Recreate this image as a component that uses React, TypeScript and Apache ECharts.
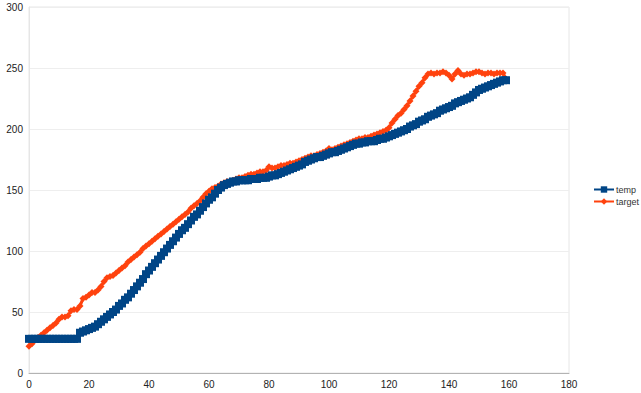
import React, { useEffect, useRef } from "react";
import * as echarts from "echarts";

const seriesNames = ["temp", "target"];

const temp = [
  28, 28, 28, 28, 28, 28, 28, 28, 28, 28,
  28, 28, 28, 28, 28, 28, 28, 33, 34, 35,
  36, 37, 38, 40, 42, 44, 46, 48, 50, 52,
  55, 57, 60, 62, 65, 68, 71, 74, 77, 81,
  84, 87, 90, 93, 96, 99, 102, 105, 108, 111,
  114, 117, 119, 122, 125, 128, 130, 133, 136, 139,
  142, 144, 147, 150, 152, 154, 155, 156, 157, 157,
  158, 158, 158, 158, 159, 159, 159, 160, 160, 160,
  161, 162, 162, 163, 164, 165, 166, 167, 168, 169,
  170, 171, 173, 174, 175, 176, 177, 177, 178, 179,
  180, 181, 181, 182, 183, 184, 185, 186, 187, 188,
  188, 189, 189, 190, 190, 190, 191, 192, 192, 193,
  194, 195, 196, 197, 198, 199, 200, 202, 203, 204,
  206, 207, 208, 210, 211, 212, 213, 215, 216, 217,
  218, 219, 221, 222, 223, 224, 225, 226, 228, 230,
  232, 233, 234, 235, 236, 237, 238, 239, 240, 240,
];

const target = [
  22, 24, 27, 29, 31, 33, 35, 37, 39, 41,
  44, 46, 46, 47, 51, 52, 52, 55, 61, 62,
  64, 66, 66, 68, 71, 75, 78, 79, 80, 82,
  84, 86, 88, 91, 93, 95, 97, 99, 102, 104,
  106, 108, 110, 112, 114, 116, 118, 120, 122, 124,
  126, 128, 130, 132, 135, 137, 139, 141, 144, 147,
  149, 151, 152, 153, 155, 156, 157, 157, 158, 159,
  160, 160, 161, 162, 163, 163, 164, 165, 165, 166,
  169, 168, 168, 169, 170, 170, 171, 172, 172, 173,
  174, 175, 176, 177, 178, 178, 179, 180, 181, 182,
  184, 183, 184, 185, 186, 187, 188, 189, 190, 191,
  192, 192, 193, 193, 194, 195, 196, 197, 198, 199,
  201, 205, 208, 211, 213, 216, 219, 223, 227, 231,
  235, 238, 242, 245, 246, 245, 246, 246, 247, 246,
  244, 241, 245, 248, 245, 244, 245, 245, 246, 247,
  247, 246, 245, 246, 246, 245, 246, 246, 246, 241,
];

const FONT = "Liberation Sans, Arial, sans-serif";

export default function App() {
  const ref = useRef<HTMLDivElement>(null);
  useEffect(() => {
    if (!ref.current) return;
    const chart = echarts.init(ref.current, undefined, { renderer: "svg" });
    chart.setOption({
      animation: false,
      backgroundColor: "#ffffff",
      grid: {
        left: 29,
        right: 72,
        top: 7,
        bottom: 20,
        show: true,
        borderColor: "#e6e6e6",
        borderWidth: 1,
      },
      legend: {
        orient: "vertical",
        left: 593,
        top: 185,
        itemWidth: 20,
        itemHeight: 8,
        itemGap: 3,
        padding: 0,
        textStyle: { fontFamily: FONT, fontSize: 9, color: "#333", padding: [0, 0, 0, -3] },
        data: seriesNames,
      },
      xAxis: {
        type: "value",
        min: 0,
        max: 180,
        interval: 20,
        axisLine: { show: true, lineStyle: { color: "#b3b3b3" } },
        axisTick: { show: false },
        splitLine: { show: false },
        axisLabel: { fontFamily: FONT, fontSize: 10, color: "#222", margin: 6 },
      },
      yAxis: {
        type: "value",
        min: 0,
        max: 300,
        interval: 50,
        axisLine: { show: true, lineStyle: { color: "#e6e6e6" } },
        axisTick: { show: false },
        splitLine: { show: true, lineStyle: { color: "#eeeeee" } },
        axisLabel: { fontFamily: FONT, fontSize: 10, color: "#222", margin: 6 },
      },
      series: [
        {
          name: seriesNames[0],
          type: "line",
          z: 3,
          data: temp.map((v, i) => [i, v]),
          symbol: "rect",
          symbolSize: 8,
          showAllSymbol: true,
          itemStyle: { color: "#004586" },
          lineStyle: { color: "#004586", width: 3 },
        },
        {
          name: seriesNames[1],
          type: "line",
          z: 2,
          data: target.map((v, i) => [i, v]),
          symbol: "diamond",
          symbolSize: 7,
          showAllSymbol: true,
          itemStyle: { color: "#ff420e" },
          lineStyle: { color: "#ff420e", width: 3 },
        },
      ],
    });
    return () => chart.dispose();
  }, []);
  return <div ref={ref} style={{ width: 641, height: 393, position: "absolute", left: 0, top: 0 }} />;
}
